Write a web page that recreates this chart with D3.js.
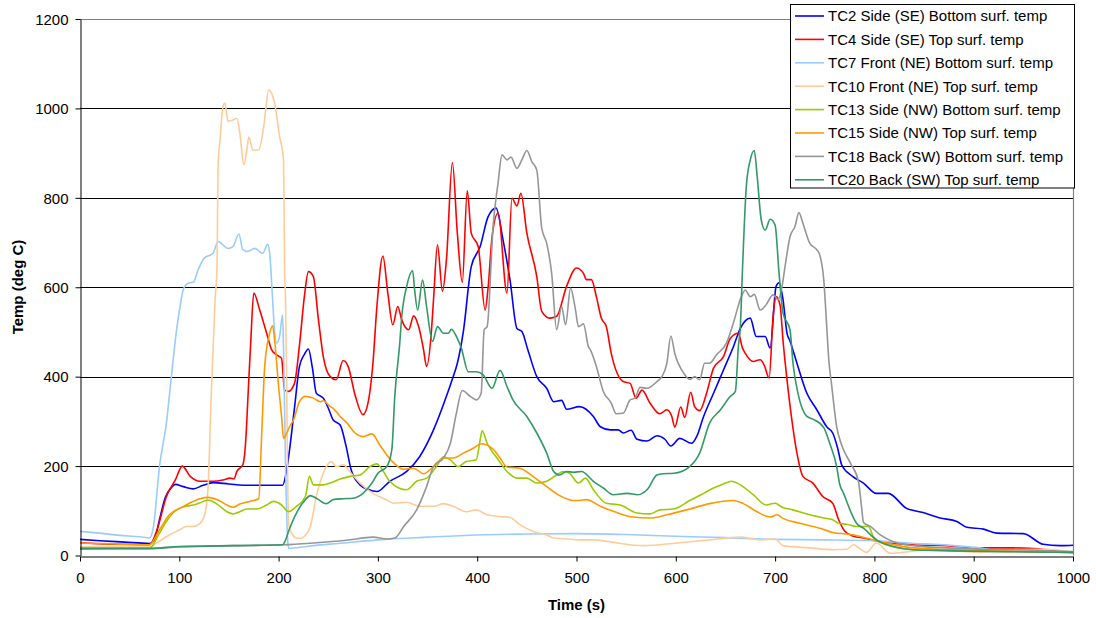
<!DOCTYPE html>
<html><head><meta charset="utf-8">
<script src="https://cdn.jsdelivr.net/npm/d3@7"></script>
<style>
body{margin:0;background:#fff;}
text{font-family:Arial,"Liberation Sans",sans-serif;}
</style>
</head><body>
<svg id="chart" width="1096" height="618"></svg>
<script>
const seriesNames = [
  "TC2 Side (SE) Bottom surf. temp",
  "TC4 Side (SE) Top surf. temp",
  "TC7 Front (NE) Bottom surf. temp",
  "TC10 Front (NE) Top surf. temp",
  "TC13 Side (NW) Bottom surf. temp",
  "TC15 Side (NW) Top surf. temp",
  "TC18 Back (SW) Bottom surf. temp",
  "TC20 Back (SW) Top surf. temp"
];
const xTicks = [0,100,200,300,400,500,600,700,800,900,1000];
const yTicks = [0,200,400,600,800,1000,1200];

// [time (s), temp (deg C)]
const tc2 = [[0,36],[20,33],[45,30],[70,27],[75,35],[80,80],[86,130],[92,152],[96,159],[104,154],[114,149],[124,157],[134,163],[150,160],[170,157],[190,157],[204,157],[208,190],[211,236],[216,330],[221,423],[226,450],[230,462],[234,420],[238,363],[245,352],[250,330],[255,303],[262,292],[268,244],[273,192],[282,158],[290,148],[299,143],[312,166],[329,188],[342,221],[356,281],[369,356],[375,395],[380,430],[386,500],[394,646],[403,691],[411,758],[419,777],[426,706],[433,617],[440,508],[445,501],[451,460],[460,400],[470,374],[477,344],[485,347],[490,327],[503,333],[517,311],[524,288],[534,281],[542,281],[547,274],[555,280],[561,260],[571,256],[581,268],[589,260],[595,245],[604,262],[616,251],[621,266],[628,311],[638,363],[648,415],[658,467],[665,508],[675,531],[681,490],[690,490],[695,464],[701,602],[704,610],[708,572],[712,497],[715,480],[722,430],[732,363],[742,326],[752,288],[758,274],[763,240],[767,203],[778,177],[789,162],[802,139],[814,139],[832,106],[849,96],[866,84],[883,76],[893,63],[910,59],[923,50],[950,49],[970,25],[987,22],[1000,23]];
const tc4 = [[0,29],[30,25],[70,24],[78,60],[87,132],[96,169],[103,200],[111,177],[121,166],[134,166],[144,169],[151,173],[155,171],[158,188],[164,203],[167,260],[169,348],[172,480],[175,587],[181,549],[188,497],[193,460],[198,449],[203,441],[206,370],[210,367],[216,385],[221,470],[226,580],[230,635],[235,624],[240,530],[245,445],[252,400],[258,393],[265,436],[270,423],[277,359],[285,315],[290,341],[295,430],[299,557],[305,670],[310,587],[315,516],[320,557],[324,527],[331,505],[336,536],[341,512],[346,460],[349,423],[354,505],[356,572],[360,695],[365,591],[369,661],[375,879],[380,721],[385,611],[390,816],[394,721],[401,691],[408,549],[411,600],[415,713],[421,766],[430,587],[435,799],[440,782],[444,810],[450,721],[460,624],[465,546],[473,531],[480,535],[490,602],[500,643],[507,631],[510,617],[515,617],[520,579],[525,531],[530,512],[535,452],[547,389],[554,385],[560,352],[566,370],[574,341],[584,317],[591,326],[596,311],[599,287],[605,332],[609,309],[615,365],[619,333],[624,324],[631,363],[638,419],[648,445],[655,486],[663,497],[667,465],[670,452],[678,434],[685,438],[689,426],[694,397],[698,535],[701,579],[705,560],[708,480],[712,393],[716,318],[722,229],[728,177],[738,162],[748,132],[758,117],[764,80],[770,55],[779,43],[789,39],[806,31],[839,24],[873,22],[906,17],[940,17],[973,13],[1000,6]];
const tc7 = [[0,54],[20,50],[40,45],[60,42],[70,39],[74,65],[80,199],[87,296],[92,400],[97,500],[101,560],[104,595],[109,609],[114,611],[119,639],[125,665],[134,676],[139,702],[149,687],[154,691],[160,719],[164,684],[169,680],[176,687],[184,676],[189,696],[191,676],[194,572],[196,500],[198,475],[201,490],[204,538],[205,460],[207,200],[209,40],[210,16],[220,18],[235,22],[260,27],[300,35],[350,41],[400,46],[450,48],[500,49],[550,47],[600,43],[650,40],[700,36],[750,35],[800,33],[820,30],[840,27],[860,25],[880,22],[906,17],[920,12],[940,9],[960,10],[973,9],[990,7],[1000,7]];
const tc10 = [[0,20],[30,19],[70,19],[77,28],[90,46],[100,57],[107,65],[114,65],[121,72],[126,95],[129,154],[132,348],[136,571],[138,646],[139,870],[141,930],[144,1004],[146,1012],[149,971],[154,974],[158,978],[161,944],[165,874],[168,907],[170,936],[174,907],[180,907],[185,959],[190,1041],[196,1012],[201,937],[205,885],[206,646],[207,572],[208,400],[209,199],[210,72],[213,50],[218,39],[222,38],[226,43],[232,65],[238,132],[245,184],[253,210],[258,199],[265,203],[273,184],[282,162],[295,139],[309,124],[316,117],[329,119],[342,110],[356,110],[366,116],[376,110],[389,98],[399,102],[410,91],[423,87],[433,85],[443,69],[456,54],[470,46],[477,39],[490,37],[503,35],[517,35],[535,30],[567,22],[601,28],[634,35],[665,41],[685,35],[700,37],[708,22],[735,17],[759,13],[772,14],[779,24],[785,16],[792,7],[802,28],[816,5],[856,13],[906,7],[940,13],[973,14],[1000,7]];
const tc13 = [[0,16],[35,16],[70,16],[80,50],[87,76],[97,102],[107,110],[114,113],[121,118],[129,124],[138,115],[148,98],[154,93],[161,98],[168,104],[178,104],[188,113],[195,121],[203,113],[210,98],[218,110],[227,132],[231,177],[235,158],[245,158],[252,162],[262,171],[272,177],[282,180],[292,199],[299,205],[302,199],[312,166],[321,151],[329,147],[339,166],[349,173],[359,199],[366,221],[373,214],[381,199],[389,210],[399,214],[403,259],[405,279],[410,251],[420,218],[430,188],[440,173],[450,173],[460,162],[470,166],[480,180],[487,188],[493,184],[502,162],[509,173],[517,147],[530,117],[544,113],[561,95],[574,93],[584,102],[598,104],[614,123],[628,139],[638,151],[648,160],[656,166],[665,158],[678,136],[691,113],[700,117],[707,108],[718,102],[735,91],[749,84],[758,80],[764,72],[772,70],[782,65],[794,65],[799,42],[812,24],[839,13],[873,11],[940,9],[1000,7]];
const tc15 = [[0,28],[35,26],[70,24],[80,57],[90,91],[101,106],[111,118],[121,127],[129,130],[139,124],[148,113],[154,108],[161,115],[171,121],[180,127],[183,273],[186,423],[191,497],[194,514],[196,482],[200,378],[203,311],[205,262],[208,273],[211,288],[215,303],[221,344],[227,356],[235,352],[242,344],[245,346],[252,333],[255,329],[262,311],[269,296],[277,274],[285,266],[294,272],[302,247],[309,225],[316,207],[326,193],[336,195],[346,183],[356,199],[366,218],[376,218],[386,229],[396,240],[404,250],[416,238],[423,218],[430,198],[443,195],[456,177],[470,154],[483,134],[497,123],[503,123],[510,125],[524,110],[537,99],[557,86],[574,84],[591,91],[611,102],[634,116],[658,123],[668,116],[681,99],[695,86],[702,91],[708,83],[725,72],[745,61],[759,51],[772,48],[785,43],[792,39],[812,28],[839,17],[906,11],[1000,7]];
const tc18 = [[0,14],[40,15],[70,15],[100,19],[154,22],[205,24],[235,28],[268,34],[295,41],[309,37],[317,39],[326,65],[339,102],[349,154],[356,199],[366,218],[373,251],[379,318],[385,369],[393,356],[399,348],[404,363],[407,505],[410,512],[416,736],[421,833],[425,896],[430,885],[434,891],[440,866],[445,885],[450,906],[455,881],[460,862],[465,732],[470,698],[475,631],[480,505],[485,557],[489,516],[494,598],[499,549],[502,512],[507,518],[512,467],[514,460],[520,423],[527,367],[535,341],[540,317],[547,318],[554,348],[559,352],[564,376],[571,374],[581,389],[586,400],[591,430],[595,491],[599,452],[608,408],[614,394],[619,400],[624,393],[629,430],[634,430],[641,449],[651,475],[658,520],[666,579],[670,594],[675,579],[679,584],[685,549],[691,561],[698,583],[703,572],[707,602],[710,646],[715,713],[720,736],[724,767],[728,743],[735,698],[742,684],[745,672],[749,617],[752,512],[754,440],[757,380],[762,288],[767,247],[776,206],[784,165],[787,110],[789,74],[796,65],[806,46],[819,31],[839,22],[873,17],[906,14],[940,13],[1000,9]];
const tc20 = [[0,16],[40,16],[70,16],[100,20],[154,22],[204,24],[206,30],[211,60],[218,95],[227,125],[232,134],[238,128],[248,116],[255,125],[265,127],[275,128],[285,139],[294,162],[300,184],[309,199],[314,236],[317,356],[322,475],[324,534],[329,602],[335,637],[337,594],[340,549],[345,616],[349,557],[355,479],[360,512],[366,497],[371,497],[374,506],[379,490],[384,464],[391,411],[399,411],[406,404],[415,374],[423,414],[430,378],[436,348],[450,311],[460,274],[470,229],[477,188],[483,180],[490,188],[497,186],[505,188],[517,166],[527,151],[537,136],[551,139],[562,136],[571,147],[581,180],[587,183],[598,184],[614,199],[624,229],[634,296],[645,326],[655,356],[660,367],[663,467],[665,512],[667,631],[671,825],[675,885],[679,906],[682,847],[686,751],[690,728],[695,752],[700,739],[704,631],[708,542],[715,505],[718,430],[723,363],[732,311],[738,305],[749,286],[755,251],[762,199],[765,160],[769,139],[776,99],[782,72],[789,61],[802,35],[819,20],[839,13],[873,11],[1000,7]];

const seriesData = [tc2, tc4, tc7, tc10, tc13, tc15, tc18, tc20];
const colors = ["#0000FF","#FF0000","#99CCFF","#FFCC99","#99CC00","#FF9900","#969696","#339966"];

const svg = d3.select("#chart");
const L = 80, R = 1073, T = 19, B = 555.5;
const x = d3.scaleLinear().domain([0,1000]).range([L,R]);
const y = d3.scaleLinear().domain([0,1200]).range([B,T]);

// gridlines
svg.append("g").selectAll("line").data(yTicks.filter(d => d > 0 && d < 1200)).join("line")
  .attr("x1", L).attr("x2", R)
  .attr("y1", d => Math.round(y(d)) + 0.5).attr("y2", d => Math.round(y(d)) + 0.5)
  .attr("stroke", "#000").attr("stroke-width", 1);
// plot border top/right (gray)
svg.append("path")
  .attr("d", `M${L},${T+0.5}H${R+0.5}V${B}`)
  .attr("fill", "none").attr("stroke", "#808080").attr("stroke-width", 1.2);

// series
const line = d3.line().x(d => x(d[0])).y(d => y(d[1])).curve(d3.curveMonotoneX);
svg.append("g").selectAll("path").data(seriesData).join("path")
  .attr("d", line).attr("fill", "none")
  .attr("stroke", (d, i) => colors[i]).attr("stroke-width", 1.6)
  .attr("stroke-linejoin", "round");

// axes
const fmt = d3.format("d");
const yAxis = svg.append("g").attr("transform", `translate(${L+0.5},0)`)
  .call(d3.axisLeft(y).tickValues(yTicks).tickFormat(fmt).tickSize(5).tickSizeOuter(0).tickPadding(7));
const xAxis = svg.append("g").attr("transform", `translate(0,${Math.round(B)+0.5})`)
  .call(d3.axisBottom(x).tickValues(xTicks).tickFormat(fmt).tickSize(5).tickSizeOuter(0).tickPadding(11));
[yAxis, xAxis].forEach(g => {
  g.selectAll("text").attr("font-size", 15).attr("font-family", "Arial, 'Liberation Sans', sans-serif").attr("fill", "#000");
  g.selectAll("line,path").attr("stroke", "#000");
});
yAxis.selectAll("text").attr("dy", "0.35em");
xAxis.selectAll("text").attr("dy", "0.71em");

// axis titles
svg.append("text").attr("transform", `translate(23,287) rotate(-90)`)
  .attr("text-anchor", "middle").attr("font-size", 15).attr("font-weight", "bold").text("Temp (deg C)");
svg.append("text").attr("x", 576.5).attr("y", 610)
  .attr("text-anchor", "middle").attr("font-size", 15).attr("font-weight", "bold").text("Time (s)");

// legend
const lg = svg.append("g");
lg.append("rect").attr("x", 790.5).attr("y", 4.5).attr("width", 284).attr("height", 183.5)
  .attr("fill", "#fff").attr("stroke", "#000").attr("stroke-width", 1);
const rows = lg.selectAll("g.row").data(seriesNames).join("g").attr("class", "row")
  .attr("transform", (d, i) => `translate(0,${16 + i * 23.4})`);
rows.append("line").attr("x1", 795).attr("x2", 824).attr("y1", 0).attr("y2", 0)
  .attr("stroke", (d, i) => colors[i]).attr("stroke-width", 1.6);
rows.append("text").attr("x", 828).attr("y", 5.3).attr("font-size", 15).text(d => d);
</script>
</body></html>
